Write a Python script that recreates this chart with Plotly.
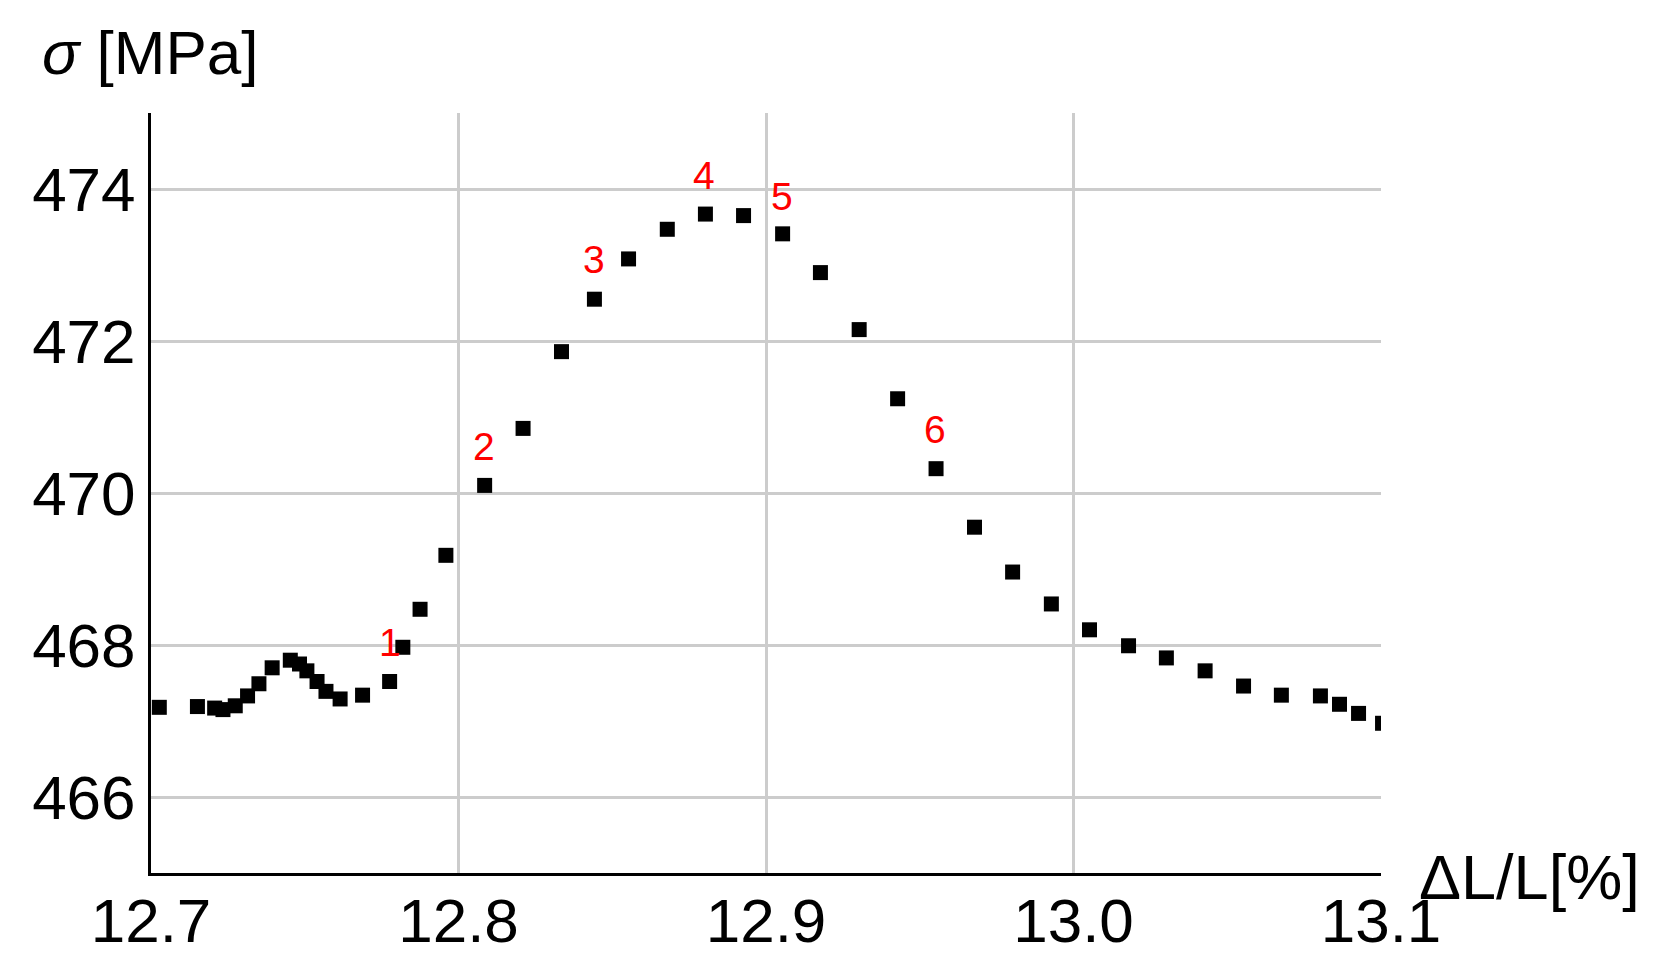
import plotly.graph_objects as go

# strain [%] and stress [MPa]
strain = [12.7027, 12.7151, 12.7207, 12.7234, 12.7274, 12.7314, 12.7351, 12.7394,
          12.7453, 12.7483, 12.7507, 12.7540, 12.7569, 12.7615, 12.7688, 12.7776,
          12.7819, 12.7875, 12.7959, 12.8085, 12.8210, 12.8335, 12.8442, 12.8553,
          12.8679, 12.8803, 12.8927, 12.9054, 12.9177, 12.9303, 12.9428, 12.9553,
          12.9678, 12.9802, 12.9928, 13.0052, 13.0179, 13.0302, 13.0428, 13.0553,
          13.0676, 13.0803, 13.0865, 13.0927, 13.1005]
stress = [467.18, 467.19, 467.17, 467.15, 467.20, 467.33, 467.49, 467.70,
          467.80, 467.75, 467.66, 467.52, 467.39, 467.29, 467.34, 467.52,
          467.97, 468.47, 469.18, 470.10, 470.85, 471.86, 472.55, 473.08,
          473.47, 473.67, 473.65, 473.41, 472.90, 472.15, 471.24, 470.32,
          469.55, 468.96, 468.54, 468.20, 467.99, 467.83, 467.66, 467.46,
          467.34, 467.33, 467.22, 467.10, 466.97]

# numbered marks
label_text = ["1", "2", "3", "4", "5", "6"]
label_x = [12.7778, 12.8082, 12.8441, 12.8799, 12.9052, 12.9550]
label_y = [468.03, 470.61, 473.07, 474.18, 473.90, 470.83]

font = "Liberation Sans, Arial, sans-serif"

fig = go.Figure()
fig.add_trace(go.Scatter(
    x=strain, y=stress, mode="markers",
    marker=dict(symbol="square", size=15, color="black", line=dict(width=0)),
    showlegend=False))

for t, x, y in zip(label_text, label_x, label_y):
    fig.add_annotation(x=x, y=y, text=t, showarrow=False,
                       font=dict(family=font, size=39, color="#ff0000"))

fig.add_annotation(xref="paper", yref="paper", x=-0.09, y=1.0, yanchor="bottom", xanchor="left",
                   yshift=24, text="<i>σ</i> [MPa]", showarrow=False,
                   font=dict(family=font, size=62, color="black"))
fig.add_annotation(xref="paper", yref="paper", x=1.029, y=0, xanchor="left", yanchor="middle",
                   yshift=-4, text="ΔL/L[%]", showarrow=False,
                   font=dict(family=font, size=63, color="black"))

fig.update_xaxes(range=[12.7, 13.1], dtick=0.1, tick0=12.7, tickformat=".1f",
                 showline=True, linecolor="black", linewidth=3,
                 showgrid=True, gridcolor="#cccccc", gridwidth=3,
                 zeroline=False, ticks="", automargin=False, ticklabelstandoff=-8,
                 tickfont=dict(family=font, size=62, color="black"))
fig.update_yaxes(range=[465, 475], dtick=2, tick0=466,
                 showline=True, linecolor="black", linewidth=3,
                 showgrid=True, gridcolor="#cccccc", gridwidth=3,
                 zeroline=False, ticks="", automargin=False,
                 tickfont=dict(family=font, size=62, color="black"))

fig.update_layout(width=1656, height=967,
                  margin=dict(l=151, r=275, t=113, b=94),
                  plot_bgcolor="white", paper_bgcolor="white")

# drop the default body margin so the figure fills the window exactly
fig.write_html("out.html", config={"displayModeBar": False},
               post_script="document.body.style.margin = '0';")
